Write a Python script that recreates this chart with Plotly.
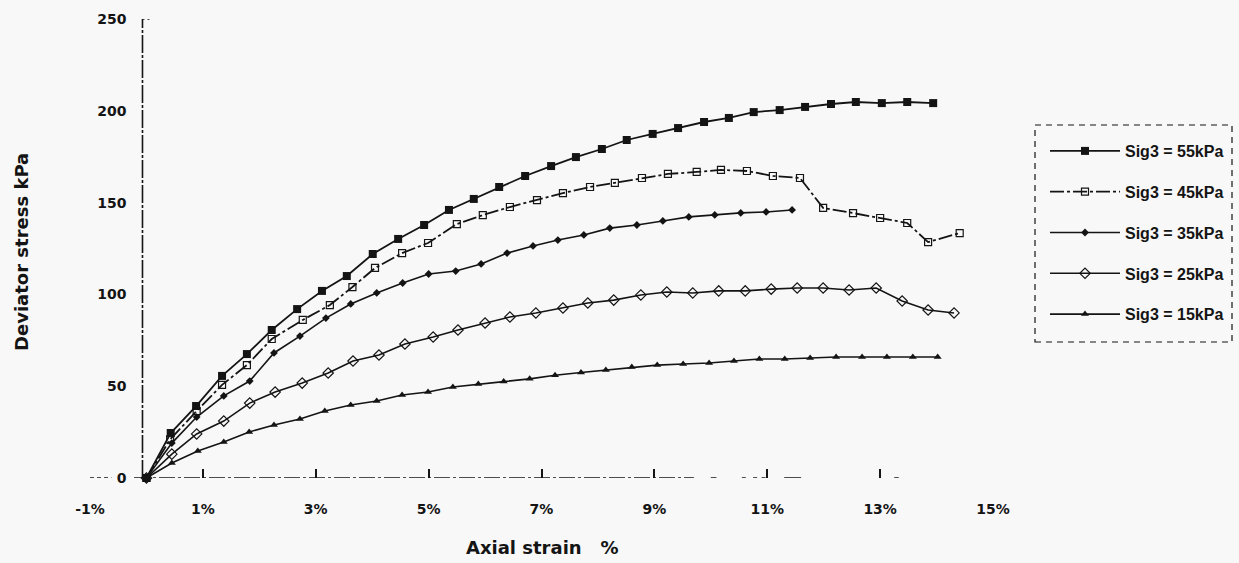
import plotly.graph_objects as go

# ---------------- data ----------------
strain_55 = [0, 0.43, 0.88, 1.34, 1.78, 2.22, 2.67, 3.11, 3.55, 4.01, 4.46, 4.92, 5.36, 5.80, 6.25, 6.71,
             7.17, 7.61, 8.07, 8.51, 8.97, 9.42, 9.88, 10.32, 10.76, 11.22, 11.67, 12.13, 12.57, 13.03, 13.48, 13.94]
stress_55 = [0, 24.5, 39.2, 55.6, 67.5, 80.6, 92.0, 101.9, 110.0, 122.0, 130.2, 137.8, 146.0, 152.0, 158.5, 164.5,
             169.9, 174.8, 179.2, 184.1, 187.4, 190.6, 193.9, 196.1, 199.3, 200.4, 202.1, 203.7, 204.8, 204.2, 204.8, 204.2]

strain_45 = [0, 0.42, 0.89, 1.34, 1.78, 2.22, 2.77, 3.25, 3.65, 4.05, 4.53, 4.99, 5.50, 5.96, 6.44, 6.92,
             7.38, 7.86, 8.30, 8.78, 9.24, 9.75, 10.18, 10.64, 11.10, 11.58, 11.99, 12.52, 13.00, 13.48, 13.85, 14.41]
stress_45 = [0, 21.0, 36.5, 50.7, 61.5, 75.7, 86.1, 94.2, 104.0, 114.4, 122.5, 128.0, 138.3, 143.2, 147.6, 151.4,
             155.2, 158.5, 160.7, 163.4, 165.6, 166.7, 167.8, 167.2, 164.5, 163.4, 147.1, 144.3, 141.6, 138.9, 128.5, 133.4]

strain_35 = [0, 0.45, 0.89, 1.37, 1.83, 2.26, 2.72, 3.18, 3.62, 4.08, 4.54, 5.00, 5.48, 5.93, 6.39, 6.85,
             7.29, 7.75, 8.21, 8.69, 9.15, 9.61, 10.07, 10.53, 10.98, 11.44]
stress_35 = [0, 19.0, 33.2, 44.7, 52.8, 68.1, 77.3, 87.1, 94.8, 100.8, 106.2, 111.1, 112.7, 116.6, 122.5, 126.4,
             129.6, 132.4, 136.1, 137.8, 140.0, 142.2, 143.3, 144.4, 144.9, 146.0]

strain_25 = [0, 0.45, 0.89, 1.37, 1.83, 2.28, 2.76, 3.22, 3.66, 4.12, 4.58, 5.08, 5.52, 6.00, 6.44, 6.90,
             7.38, 7.82, 8.28, 8.76, 9.22, 9.68, 10.14, 10.61, 11.07, 11.53, 11.99, 12.45, 12.93, 13.39, 13.85, 14.31]
stress_25 = [0, 13.0, 24.0, 31.0, 40.8, 46.8, 51.7, 57.2, 63.7, 67.0, 73.0, 76.8, 80.6, 84.4, 87.7, 89.9,
             92.6, 95.3, 96.9, 99.7, 101.3, 100.8, 101.9, 101.9, 102.9, 103.5, 103.5, 102.4, 103.5, 96.4, 91.5, 89.9]

strain_15 = [0, 0.45, 0.91, 1.37, 1.82, 2.26, 2.72, 3.16, 3.62, 4.08, 4.53, 4.99, 5.43, 5.88, 6.33, 6.79,
             7.24, 7.70, 8.14, 8.60, 9.05, 9.51, 9.97, 10.41, 10.86, 11.31, 11.76, 12.22, 12.68, 13.12, 13.58, 14.02]
stress_15 = [0, 8.2, 14.7, 19.6, 25.1, 28.9, 32.1, 36.5, 39.8, 41.9, 45.2, 46.8, 49.6, 51.2, 52.5, 54.0,
             56.0, 57.5, 58.8, 60.5, 61.5, 62.1, 62.6, 63.7, 64.8, 64.8, 65.4, 65.9, 65.9, 65.9, 65.9, 65.9]

series_names = ["Sig3 = 55kPa", "Sig3 = 45kPa", "Sig3 = 35kPa", "Sig3 = 25kPa", "Sig3 = 15kPa"]

x_tick_vals = [-1, 1, 3, 5, 7, 9, 11, 13, 15]
x_tick_text = ["-1%", "1%", "3%", "5%", "7%", "9%", "11%", "13%", "15%"]
y_tick_vals = [0, 50, 100, 150, 200, 250]
y_tick_text = ["0", "50", "100", "150", "200", "250"]

x_title = "Axial strain   %"
y_title = "Deviator stress kPa"

# ---------------- styling ----------------
INK = "#141414"
BG = "#f8f8f8"
FONT = "DejaVu Sans"
LFONT = "Liberation Sans"
W, H = 1239, 563
L, R, T, B = 90, 246, 19, 85
XMIN, XMAX = -1, 15
YMIN, YMAX = 0, 250
pw = W - L - R
ph = H - T - B


def px_to_paper_x(px):
    return (px - L) / pw


def px_to_paper_y(py):
    return (H - B - py) / ph


styles = [
    dict(marker=dict(symbol="square", size=8, color=INK), line=dict(color=INK, width=1.8)),
    dict(marker=dict(symbol="square-open", size=7, color=INK, line=dict(width=1.2)),
         line=dict(color=INK, width=1.8, dash="14px,3px,3px,3px")),
    dict(marker=dict(symbol="diamond", size=6, color=INK), line=dict(color=INK, width=1.6)),
    dict(marker=dict(symbol="diamond-open", size=8, color=INK, line=dict(width=1.2)),
         line=dict(color=INK, width=1.6)),
    dict(marker=dict(symbol="triangle-up", size=7, color=INK), line=dict(color=INK, width=1.6)),
]

data = [(strain_55, stress_55), (strain_45, stress_45), (strain_35, stress_35),
        (strain_25, stress_25), (strain_15, stress_15)]

fig = go.Figure()
for i, ((xs, ys), name, st) in enumerate(zip(data, series_names, styles)):
    fig.add_trace(go.Scatter(x=xs, y=ys, mode="lines+markers", name=name,
                             legendgroup=f"g{i}", cliponaxis=False, **st))

# axis lines (dashed, crossing at zero) drawn as shapes
shapes = []
shapes.append(dict(type="line", xref="x", yref="y", x0=-0.07, x1=-0.07, y0=0, y1=250,
                   line=dict(color=INK, width=1.6, dash="18px,2px,3px,2px")))
shapes.append(dict(type="line", xref="x", yref="y", x0=-0.07, x1=0.06, y0=250, y1=250,
                   line=dict(color=INK, width=1.4, dash="2px,3px")))
shapes.append(dict(type="line", xref="x", yref="y", x0=-1, x1=-0.62, y0=0, y1=0,
                   line=dict(color=INK, width=1.5, dash="4px,3px")))
shapes.append(dict(type="line", xref="x", yref="y", x0=-0.22, x1=9.7, y0=0, y1=0,
                   line=dict(color=INK, width=1.5, dash="16px,3px,3px,3px")))
for a, b in [(10.0, 10.1), (10.55, 10.62), (10.75, 10.82), (10.9, 10.97), (11.3, 11.6), (13.25, 13.33)]:
    shapes.append(dict(type="line", xref="x", yref="y", x0=a, x1=b, y0=0, y1=0,
                       line=dict(color=INK, width=1.5)))
# legend dashed frame
shapes.append(dict(type="rect", xref="paper", yref="paper",
                   x0=px_to_paper_x(1035), x1=px_to_paper_x(1232),
                   y0=px_to_paper_y(342), y1=px_to_paper_y(125),
                   line=dict(color=INK, width=1.2, dash="6px,5px")))

annotations = [
    dict(text=x_title, xref="paper", yref="paper", x=px_to_paper_x(542), y=px_to_paper_y(547),
         xanchor="center", yanchor="middle", showarrow=False,
         font=dict(family=FONT, size=18, color=INK, weight="bold")),
    dict(text=y_title, xref="paper", yref="paper", x=px_to_paper_x(21), y=px_to_paper_y(252),
         xanchor="center", yanchor="middle", showarrow=False, textangle=-90,
         font=dict(family=FONT, size=18, color=INK, weight="bold")),
]

fig.update_layout(
    width=W, height=H,
    margin=dict(l=L, r=R, t=T, b=B, pad=0, autoexpand=False),
    paper_bgcolor=BG, plot_bgcolor=BG,
    font=dict(family=FONT, color=INK, size=14),
    xaxis=dict(range=[XMIN, XMAX], tickvals=x_tick_vals, ticktext=x_tick_text,
               showgrid=False, zeroline=False, showline=False,
               ticks="inside", ticklen=9, tickwidth=1.5, tickcolor=INK,
               ticklabelstandoff=21,
               tickfont=dict(family=FONT, size=14, color=INK, weight="bold")),
    yaxis=dict(range=[YMIN, YMAX], tickvals=y_tick_vals, ticktext=y_tick_text,
               showgrid=False, zeroline=False, showline=False, ticks="",
               anchor="free", position=(0 - XMIN) / (XMAX - XMIN),
               ticklabelstandoff=20,
               tickfont=dict(family=FONT, size=14, color=INK, weight="bold")),
    showlegend=True,
    legend=dict(x=px_to_paper_x(1045), y=px_to_paper_y(134), xanchor="left", yanchor="top",
                bgcolor="rgba(0,0,0,0)", borderwidth=0, tracegroupgap=17, itemwidth=70,
                font=dict(family=LFONT, size=16, color=INK, weight="bold")),
    shapes=shapes,
    annotations=annotations,
)

fig.write_html("out.html",
               config={"displayModeBar": False},
               post_script="document.body.style.margin='0';document.body.style.background='%s';" % BG)
